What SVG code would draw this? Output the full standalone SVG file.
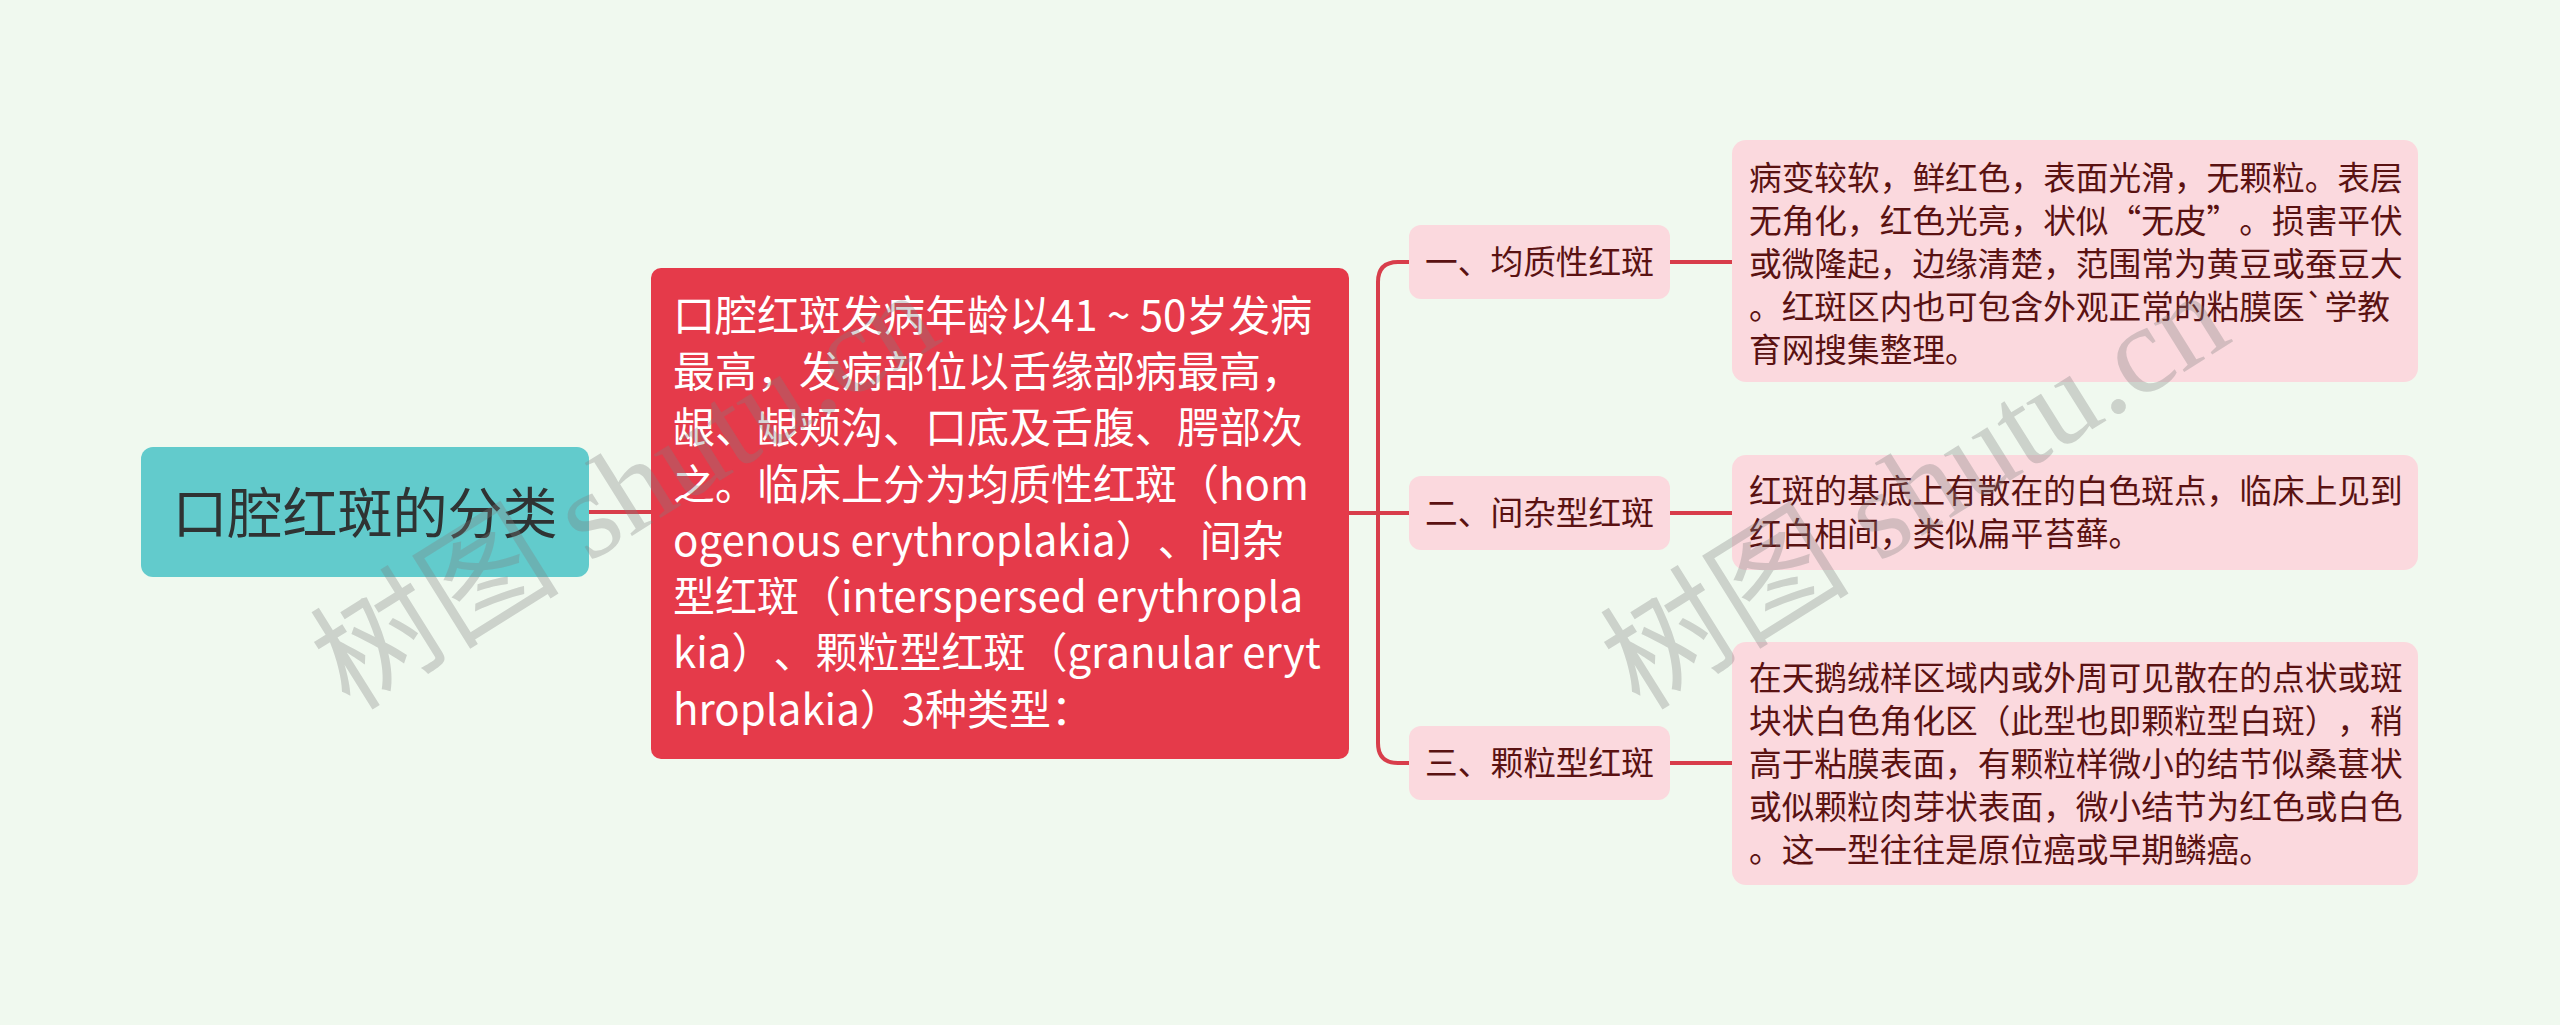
<svg xmlns="http://www.w3.org/2000/svg" width="2560" height="1025" viewBox="0 0 2560 1025">
<style>
  text { text-spacing-trim: space-all; }
  .bg { fill: #f0f9ef; }
  .conn { fill: none; stroke: #d83e4b; stroke-width: 4; stroke-linecap: butt; }
  .root-box { fill: #62cbcc; }
  .root-txt { font-family: "Noto Sans CJK SC", "Noto Sans", sans-serif; font-size: 55px; fill: #2f3333; }
  .main-box { fill: #e53a4a; }
  .main-txt { font-family: "Noto Sans CJK SC", "Noto Sans", sans-serif; font-size: 42px; fill: #ffffff; }
  .lbl-box { fill: #fbd9de; }
  .lbl-txt { font-family: "Noto Sans CJK SC", "Noto Sans", sans-serif; font-size: 32.7px; fill: #5a1212; }
  .leaf-txt { font-family: "Noto Sans CJK SC", "Noto Sans", sans-serif; font-size: 32.7px; fill: #5a1212; }
  .wm { font-family: "Liberation Serif", "Noto Sans CJK SC", serif; font-size: 125px; fill: #808080; fill-opacity: 0.32; }
</style>
<rect class="bg" x="0" y="0" width="2560" height="1025"/>

<g id="connectors">
  <path class="conn" d="M589,512 H651"/>
  <path class="conn" d="M1349,513 H1409"/>
  <path class="conn" d="M1409,262 H1398 Q1378,262 1378,282 V743 Q1378,763 1398,763 H1409"/>
  <path class="conn" d="M1670,262 H1732"/>
  <path class="conn" d="M1670,513 H1732"/>
  <path class="conn" d="M1670,763 H1732"/>
</g>

<g id="root">
  <rect class="root-box" x="141" y="447" width="448" height="130" rx="12"/>
  <text class="root-txt" x="365" y="533" text-anchor="middle">口腔红斑的分类</text>
</g>

<g id="main">
  <rect class="main-box" x="651" y="268" width="698" height="491" rx="10"/>
  <text class="main-txt">
    <tspan x="673" y="331">口腔红斑发病年龄以41 ~ 50岁发病</tspan>
    <tspan x="673" y="387">最高，发病部位以舌缘部病最高，</tspan>
    <tspan x="673" y="443">龈、龈颊沟、口底及舌腹、腭部次</tspan>
    <tspan x="673" y="500">之。临床上分为均质性红斑（hom</tspan>
    <tspan x="673" y="556">ogenous erythroplakia）、间杂</tspan>
    <tspan x="673" y="612">型红斑（interspersed erythropla</tspan>
    <tspan x="673" y="668">kia）、颗粒型红斑（granular eryt</tspan>
    <tspan x="673" y="725">hroplakia）3种类型：</tspan>
  </text>
</g>

<g id="label1">
  <rect class="lbl-box" x="1409" y="225" width="261" height="74" rx="12"/>
  <text class="lbl-txt" x="1539.5" y="274" text-anchor="middle">一、均质性红斑</text>
</g>
<g id="label2">
  <rect class="lbl-box" x="1409" y="476" width="261" height="74" rx="12"/>
  <text class="lbl-txt" x="1539.5" y="525" text-anchor="middle">二、间杂型红斑</text>
</g>
<g id="label3">
  <rect class="lbl-box" x="1409" y="726" width="261" height="74" rx="12"/>
  <text class="lbl-txt" x="1539.5" y="775" text-anchor="middle">三、颗粒型红斑</text>
</g>

<g id="leaf1">
  <rect class="lbl-box" x="1732" y="140" width="686" height="242" rx="14"/>
  <text class="leaf-txt">
    <tspan x="1749" y="190">病变较软，鲜红色，表面光滑，无颗粒。表层</tspan>
    <tspan x="1749" y="233">无角化，红色光亮，状似“无皮”。损害平伏</tspan>
    <tspan x="1749" y="276">或微隆起，边缘清楚，范围常为黄豆或蚕豆大</tspan>
    <tspan x="1749" y="319">。红斑区内也可包含外观正常的粘膜医`学教</tspan>
    <tspan x="1749" y="362">育网搜集整理。</tspan>
  </text>
</g>
<g id="leaf2">
  <rect class="lbl-box" x="1732" y="455" width="686" height="115" rx="14"/>
  <text class="leaf-txt">
    <tspan x="1749" y="503">红斑的基底上有散在的白色斑点，临床上见到</tspan>
    <tspan x="1749" y="546">红白相间，类似扁平苔藓。</tspan>
  </text>
</g>
<g id="leaf3">
  <rect class="lbl-box" x="1732" y="642" width="686" height="243" rx="14"/>
  <text class="leaf-txt">
    <tspan x="1749" y="690">在天鹅绒样区域内或外周可见散在的点状或斑</tspan>
    <tspan x="1749" y="733">块状白色角化区（此型也即颗粒型白斑），稍</tspan>
    <tspan x="1749" y="776">高于粘膜表面，有颗粒样微小的结节似桑葚状</tspan>
    <tspan x="1749" y="819">或似颗粒肉芽状表面，微小结节为红色或白色</tspan>
    <tspan x="1749" y="862">。这一型往往是原位癌或早期鳞癌。</tspan>
  </text>
</g>

<g id="watermark">
  <text class="wm" transform="translate(350,712) rotate(-32)">树图 shutu.cn</text>
  <text class="wm" transform="translate(1640,712) rotate(-32)">树图 shutu.cn</text>
</g>
</svg>
